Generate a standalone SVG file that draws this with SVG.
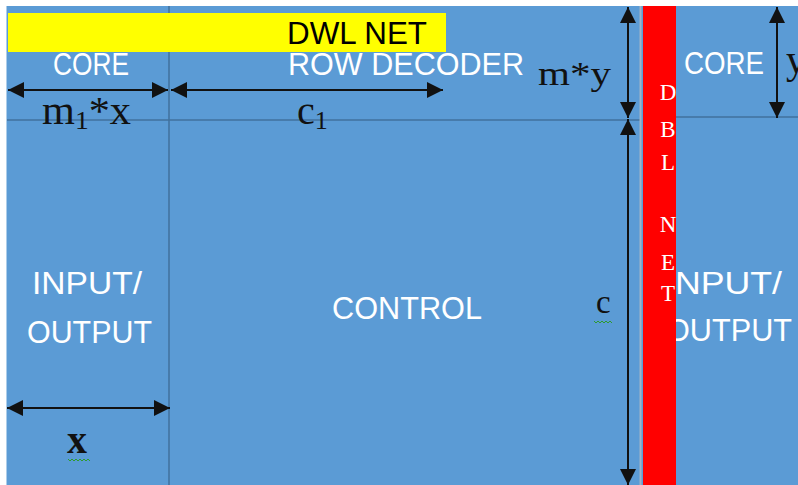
<svg xmlns="http://www.w3.org/2000/svg" width="798" height="485" viewBox="0 0 798 485">
<defs>
<style>
.lbl{font-family:"Liberation Sans",Arial,sans-serif;fill:#ffffff;font-size:31px}
.blk{font-family:"Liberation Sans",Arial,sans-serif;fill:#000000;font-size:31px}
.ser{font-family:"Liberation Serif","Times New Roman",serif;fill:#111111;font-size:33px}
.big{font-family:"Liberation Serif","Times New Roman",serif;fill:#111111;font-size:40px}
.dbl{font-family:"Liberation Serif","Times New Roman",serif;fill:#ffffff;font-size:23px;text-anchor:middle}
.grid{stroke:#41719c;stroke-width:1.5;fill:none}
.arr{stroke:#111111;stroke-width:2;fill:none;marker-start:url(#ah);marker-end:url(#ah)}
.sq{stroke:#2e9a2e;stroke-width:1;fill:none}
</style>
<marker id="ah" viewBox="0 0 16 16" refX="16" refY="8" markerWidth="16" markerHeight="16" markerUnits="userSpaceOnUse" orient="auto-start-reverse">
<path d="M0,0 L16,8 L0,16 Z" fill="#111111"/>
</marker>
</defs>
<rect x="0" y="0" width="798" height="485" fill="#ffffff"/>
<rect x="6.5" y="6" width="791.5" height="479" fill="#5b9bd5"/>

<g id="grid">
<line class="grid" x1="169" y1="6" x2="169" y2="485"/>
<line class="grid" x1="7" y1="120" x2="640" y2="120"/>
<line class="grid" x1="676" y1="117" x2="798" y2="117"/>
<line x1="640.5" y1="6" x2="640.5" y2="485" stroke="#9fb3c8" stroke-width="2"/>
</g>

<g id="core-left"><text class="lbl" x="53" y="75" textLength="76" lengthAdjust="spacingAndGlyphs">CORE</text></g>
<g id="row-decoder"><text class="lbl" x="288" y="75" textLength="236" lengthAdjust="spacingAndGlyphs">ROW DECODER</text></g>
<g id="io-left">
<text class="lbl" x="32" y="294" textLength="110" lengthAdjust="spacingAndGlyphs">INPUT/</text>
<text class="lbl" x="27" y="343" textLength="125" lengthAdjust="spacingAndGlyphs">OUTPUT</text>
</g>
<g id="control"><text class="lbl" x="332" y="319" textLength="150" lengthAdjust="spacingAndGlyphs">CONTROL</text></g>
<g id="core-right"><text class="lbl" x="684" y="74" textLength="80" lengthAdjust="spacingAndGlyphs">CORE</text></g>
<g id="io-right">
<text class="lbl" x="665" y="294" textLength="117" lengthAdjust="spacingAndGlyphs">INPUT/</text>
<text class="lbl" x="666" y="341" textLength="126" lengthAdjust="spacingAndGlyphs">OUTPUT</text>
</g>

<g id="dbl-net">
<rect x="643" y="6" width="33" height="479" fill="#ff0000"/>
<text class="dbl" x="668" y="100">D</text>
<text class="dbl" x="668" y="137">B</text>
<text class="dbl" x="668" y="170">L</text>
<text class="dbl" x="668" y="232">N</text>
<text class="dbl" x="668" y="270">E</text>
<text class="dbl" x="668" y="301">T</text>
</g>

<g id="dwl-net">
<rect x="8" y="13" width="438" height="39" fill="#ffff00"/>
<text class="blk" x="287" y="44" textLength="140" lengthAdjust="spacingAndGlyphs">DWL NET</text>
</g>

<g id="connectors">
<line class="arr" x1="8" y1="90" x2="168" y2="90"/>
<line class="arr" x1="171" y1="90" x2="443" y2="90"/>
<line class="arr" x1="628" y1="7" x2="628" y2="118"/>
<line class="arr" x1="628" y1="119" x2="628" y2="485"/>
<line class="arr" x1="777" y1="7" x2="777" y2="118"/>
<line class="arr" x1="7" y1="408" x2="170" y2="408"/>
</g>

<g id="dim-labels">
<text class="ser" x="538" y="85" font-size="35" textLength="73" lengthAdjust="spacingAndGlyphs">m*y</text>
<text class="big" x="42" y="124" textLength="89" lengthAdjust="spacingAndGlyphs">m<tspan font-size="26" dy="5">1</tspan><tspan dy="-5">*x</tspan></text>
<text class="big" x="297" y="124">c<tspan font-size="26" dy="5">1</tspan></text>
<text class="ser" x="596" y="313">c</text>
<text class="big" x="786" y="73">y</text>
<text class="big" x="67" y="453" font-weight="bold" font-size="38">x</text>
<polyline class="sq" points="594,321 596,323 598,321 600,323 602,321 604,323 606,321 608,323 610,321 612,323"/>
<polyline class="sq" points="68,459 70,461 72,459 74,461 76,459 78,461 80,459 82,461 84,459 86,461 88,459 90,461"/>
</g>
</svg>
